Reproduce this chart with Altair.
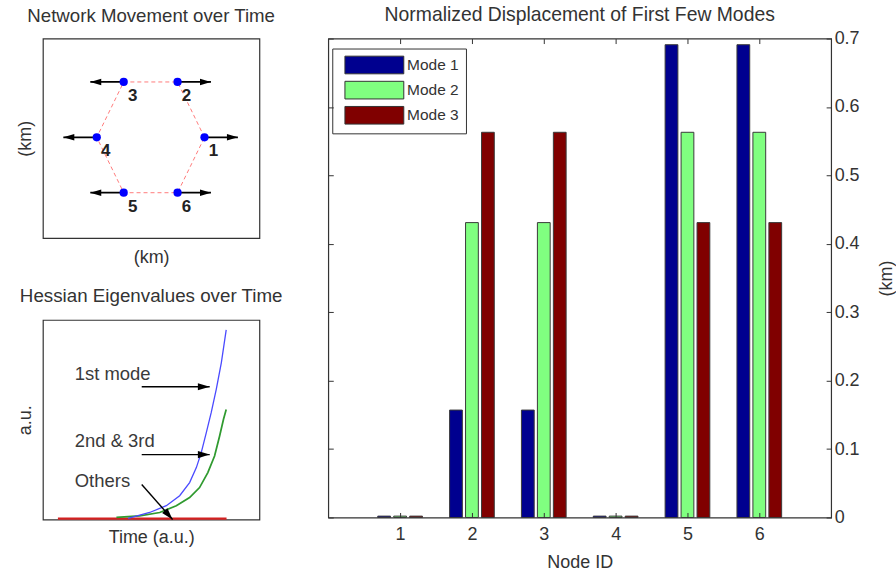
import altair as alt
import pandas as pd

FONT = "Liberation Sans"
TXT = "#333333"

# ---------------- data ----------------
# panel 1: network of 6 nodes and their movement
node_id = [1, 2, 3, 4, 5, 6]
node_x = [1.0, 0.5, -0.5, -1.0, -0.5, 0.5]
node_y = [0.0, 0.866, 0.866, 0.0, -0.866, -0.866]
move_dx = [0.62, 0.62, -0.62, -0.62, -0.62, 0.62]

# panel 2: Hessian eigenvalues over time
t_first = [0.416, 0.544, 0.643, 0.722, 0.781, 0.821, 0.85, 0.88, 0.909, 0.939, 0.969, 0.998]
v_first = [0.005, 0.035, 0.069, 0.119, 0.185, 0.26, 0.335, 0.435, 0.535, 0.652, 0.785, 0.95]
t_second = [0.347, 0.485, 0.604, 0.702, 0.781, 0.84, 0.889, 0.929, 0.959, 0.982, 0.998]
v_second = [0.01, 0.018, 0.035, 0.069, 0.11, 0.16, 0.235, 0.318, 0.418, 0.502, 0.551]
t_others = [0.0, 0.25, 0.5, 0.75, 1.0]
v_others = [0.004, 0.004, 0.004, 0.004, 0.004]
series_names = ["Others", "2nd & 3rd", "1st mode"]

note_text = ["1st mode", "2nd & 3rd", "Others"]
note_t = [0.1, 0.1, 0.1]
note_v = [0.73, 0.395, 0.195]
arrow_t0 = [0.497, 0.497, 0.497]
arrow_v0 = [0.665, 0.325, 0.175]
arrow_t1 = [0.9, 0.9, 0.68]
arrow_v1 = [0.665, 0.325, 0.0]
arrow_angle = [0, 0, 48.6]

# panel 3: normalized displacement
node_ids = [1, 2, 3, 4, 5, 6]
mode_names = ["Mode 1", "Mode 2", "Mode 3"]
mode1 = [0.002, 0.157, 0.157, 0.002, 0.691, 0.691]
mode2 = [0.002, 0.431, 0.431, 0.002, 0.563, 0.563]
mode3 = [0.002, 0.563, 0.563, 0.002, 0.431, 0.431]
y_ticks = [0, 0.1, 0.2, 0.3, 0.4, 0.5, 0.6, 0.7]

# ---------------- panel 1 ----------------
net = pd.DataFrame({"id": node_id, "x": node_x, "y": node_y, "dx": move_dx})
net["tip"] = net["x"] + net["dx"]
net["dir"] = ["right" if d > 0 else "left" for d in net["dx"]]
ring = pd.concat([net, net.iloc[[0]]]).reset_index(drop=True)
ring["ord"] = list(range(len(ring)))

sxA = alt.Scale(domain=[-2.0, 2.02], nice=False, zero=False)
syA = alt.Scale(domain=[-1.576, 1.545], nice=False, zero=False)
axA_x = alt.Axis(title="(km)", labels=False, ticks=False, domain=False, grid=False, titlePadding=10)
axA_y = alt.Axis(title="(km)", labels=False, ticks=False, domain=False, grid=False, titlePadding=8)

HEAD_R = "M0,0L-1,-0.3L-1,0.3Z"
HEAD_L = "M0,0L1,-0.3L1,0.3Z"

edges = alt.Chart(ring).mark_line(color="#ff7b7b", strokeDash=[4, 3], strokeWidth=1).encode(
    x=alt.X("x:Q", scale=sxA, axis=axA_x),
    y=alt.Y("y:Q", scale=syA, axis=axA_y),
    order="ord:Q",
)
shafts = alt.Chart(net).mark_rule(color="black", strokeWidth=1.8).encode(
    x=alt.X("x:Q", scale=sxA, axis=axA_x),
    x2="tip:Q",
    y=alt.Y("y:Q", scale=syA, axis=axA_y),
)
heads = alt.Chart(net).mark_point(filled=True, color="black", opacity=1, size=480).encode(
    x=alt.X("tip:Q", scale=sxA, axis=axA_x),
    y=alt.Y("y:Q", scale=syA, axis=axA_y),
    shape=alt.Shape("dir:N", scale=alt.Scale(domain=["right", "left"], range=[HEAD_R, HEAD_L]), legend=None),
)
dots = alt.Chart(net).mark_circle(color="#0000ff", opacity=1, size=68).encode(
    x=alt.X("x:Q", scale=sxA, axis=axA_x),
    y=alt.Y("y:Q", scale=syA, axis=axA_y),
)
labels = alt.Chart(net).mark_text(dx=9, dy=14, fontSize=17, fontWeight="bold", color="#222", font=FONT).encode(
    x=alt.X("x:Q", scale=sxA, axis=axA_x),
    y=alt.Y("y:Q", scale=syA, axis=axA_y),
    text="id:N",
)
A = alt.layer(edges, shafts, heads, dots, labels).properties(
    width=217, height=200,
    title=alt.TitleParams("Network Movement over Time", fontSize=18.7, offset=13),
)

# ---------------- panel 2 ----------------
curves = pd.concat([
    pd.DataFrame({"t": t_others, "v": v_others, "s": series_names[0]}),
    pd.DataFrame({"t": t_second, "v": v_second, "s": series_names[1]}),
    pd.DataFrame({"t": t_first, "v": v_first, "s": series_names[2]}),
])
notes = pd.DataFrame({"label": note_text, "t": note_t, "v": note_v})
arrows = pd.DataFrame({"t0": arrow_t0, "v0": arrow_v0, "t1": arrow_t1, "v1": arrow_v1, "ang": arrow_angle})

sxB = alt.Scale(domain=[-0.089, 1.195], nice=False, zero=False)
syB = alt.Scale(domain=[0, 1], nice=False)
axB_x = alt.Axis(title="Time (a.u.)", labels=False, ticks=False, domain=False, grid=False, titlePadding=9)
axB_y = alt.Axis(title="a.u.", labels=False, ticks=False, domain=False, grid=False, titlePadding=8)

lines = alt.Chart(curves).mark_line().encode(
    x=alt.X("t:Q", scale=sxB, axis=axB_x),
    y=alt.Y("v:Q", scale=syB, axis=axB_y),
    color=alt.Color("s:N", scale=alt.Scale(domain=series_names, range=["#d42020", "#2f9a2f", "#4a4aff"]), legend=None),
    strokeWidth=alt.StrokeWidth("s:N", scale=alt.Scale(domain=series_names, range=[2.2, 1.3, 1.3]), legend=None),
)
note_txt = alt.Chart(notes).mark_text(align="left", baseline="middle", fontSize=18.5, color="#3a3a3a", font=FONT).encode(
    x=alt.X("t:Q", scale=sxB, axis=axB_x),
    y=alt.Y("v:Q", scale=syB, axis=axB_y),
    text="label:N",
)
arr_shaft = alt.Chart(arrows).mark_rule(color="black", strokeWidth=1.4).encode(
    x=alt.X("t0:Q", scale=sxB, axis=axB_x),
    y=alt.Y("v0:Q", scale=syB, axis=axB_y),
    x2="t1:Q",
    y2="v1:Q",
)
arr_head = alt.Chart(arrows).mark_point(filled=True, color="black", opacity=1, size=560, shape=HEAD_R).encode(
    x=alt.X("t1:Q", scale=sxB, axis=axB_x),
    y=alt.Y("v1:Q", scale=syB, axis=axB_y),
    angle=alt.Angle("ang:Q", scale=None),
)
B = alt.layer(lines, note_txt, arr_shaft, arr_head).properties(
    width=217, height=200,
    title=alt.TitleParams("Hessian Eigenvalues over Time", fontSize=18.8, offset=14),
)

# ---------------- panel 3 ----------------
rows = []
for k, (m, vals) in enumerate(zip(mode_names, [mode1, mode2, mode3])):
    for n, v in zip(node_ids, vals):
        rows.append({"node": n, "mode": m, "k": k, "value": v})
bar_df = pd.DataFrame(rows)

sxC = alt.Scale(domain=[0, 7], nice=False, zero=False)
syC = alt.Scale(domain=[0, 0.7], nice=False)

bars = alt.Chart(bar_df).transform_calculate(
    xl="datum.node + (datum.k - 1) * 0.2222 - 0.0889",
    xr="datum.node + (datum.k - 1) * 0.2222 + 0.0889",
).mark_rect(stroke="#3a3a3a", strokeWidth=1, opacity=1).encode(
    x=alt.X("xl:Q", scale=sxC, axis=alt.Axis(
        orient="bottom", values=node_ids, format="d", offset=-5, tickSize=5,
        domain=False, grid=False, title="Node ID", labelPadding=8, titlePadding=10, zindex=1)),
    x2="xr:Q",
    y=alt.Y("value:Q", scale=syC, axis=alt.Axis(
        orient="right", values=y_ticks, format="~g", offset=-5, tickSize=5,
        domain=False, grid=False, title="(km)", titleAngle=270, labelPadding=3,
        titlePadding=36, zindex=1)),
    y2=alt.datum(0),
    color=alt.Color("mode:N", scale=alt.Scale(domain=mode_names, range=["#00008f", "#80ff80", "#800000"]),
                    legend=alt.Legend(
                        title=None, orient="none", legendX=4, legendY=10, direction="vertical",
                        fillColor="white", strokeColor="#333", padding=7, cornerRadius=0,
                        symbolType="M-0.43,-1L6.24,-1L6.24,1L-0.43,1Z", symbolSize=313,
                        symbolStrokeColor="#333", symbolStrokeWidth=1, symbolOpacity=1,
                        labelFontSize=15.5, labelFont=FONT, labelColor=TXT, labelOffset=49,
                        rowPadding=2.2)),
)
frame_axes = alt.Chart(bar_df).mark_point(opacity=0).encode(
    x=alt.X("node:Q", scale=sxC, axis=alt.Axis(
        orient="top", values=node_ids, labels=False, title=None, offset=-5, tickSize=5,
        domain=False, grid=False, zindex=1)),
    y=alt.Y("value:Q", scale=syC, axis=alt.Axis(
        orient="left", values=y_ticks, labels=False, title=None, offset=-5, tickSize=5,
        domain=False, grid=False, zindex=1)),
)
C = alt.layer(bars, frame_axes).resolve_axis(x="independent", y="independent").properties(
    width=504, height=480,
    title=alt.TitleParams("Normalized Displacement of First Few Modes", fontSize=19.4, offset=4),
)

chart = alt.hconcat(
    alt.vconcat(A, B, spacing=19), C, spacing=43
).resolve_scale(
    color="independent", strokeWidth="independent", shape="independent",
).properties(
    padding={"left": 16, "top": 4, "right": 0, "bottom": 0},
).configure_view(
    stroke="#333", strokeWidth=1.2,
).configure_axis(
    labelFont=FONT, titleFont=FONT, labelFontSize=18, titleFontSize=18,
    labelColor=TXT, titleColor=TXT, tickColor="#333", tickWidth=1,
    titleFontWeight="normal",
).configure_title(
    font=FONT, fontSize=18, fontWeight="normal", color=TXT, anchor="middle", offset=10,
)

chart.save("out.html", embed_options={"renderer": "svg", "actions": False})
